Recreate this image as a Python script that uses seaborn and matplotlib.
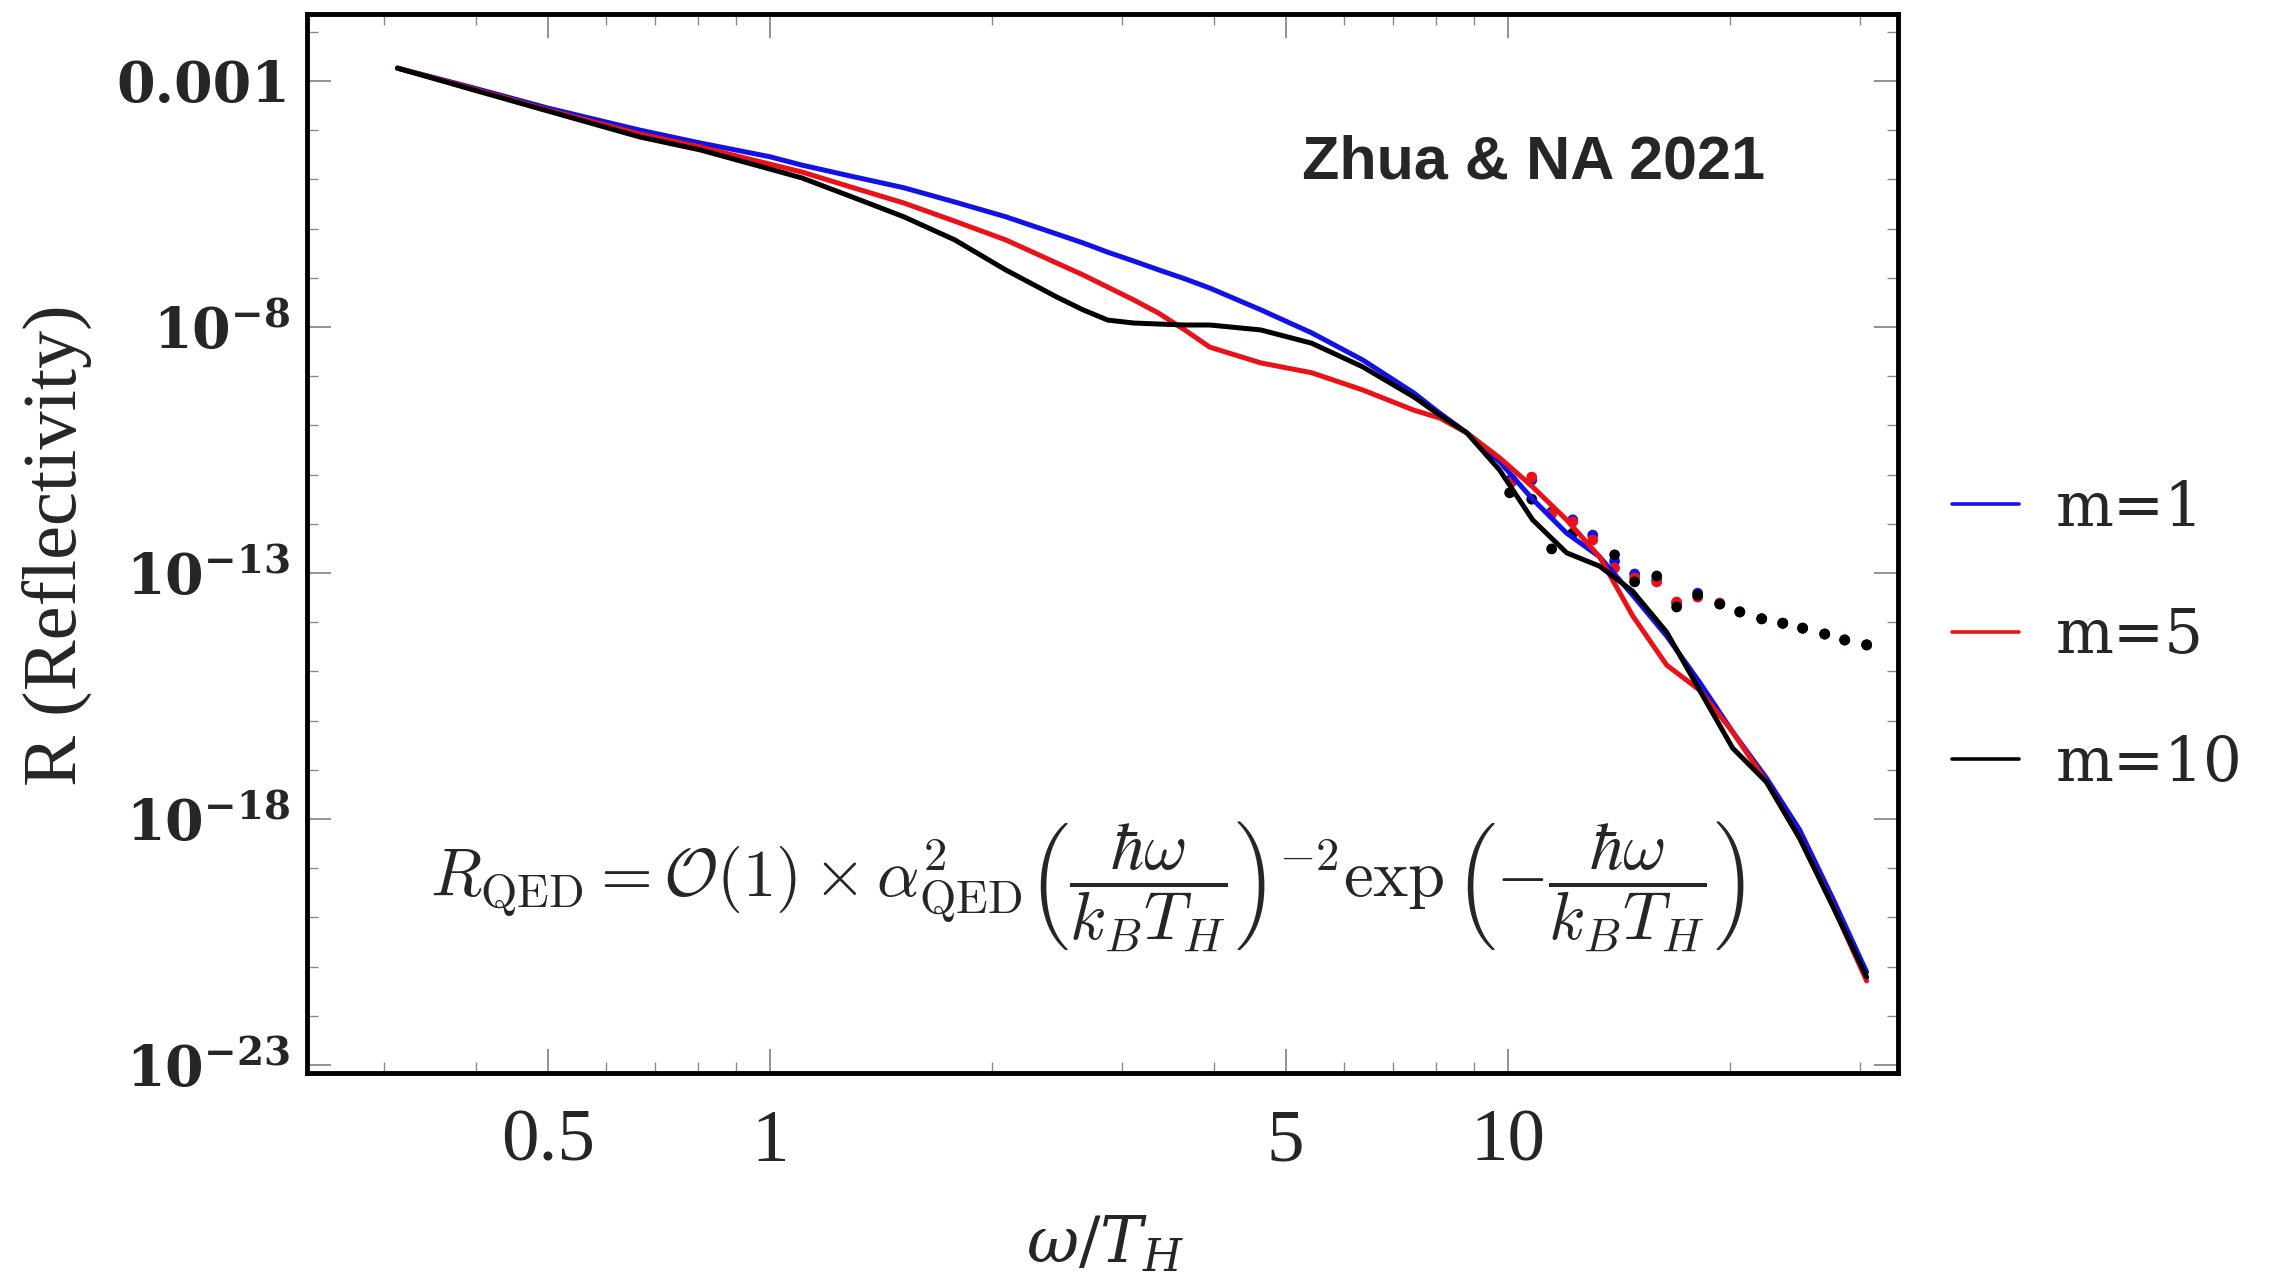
import numpy as np
import pandas as pd
import matplotlib
matplotlib.use('Agg')
import matplotlib.pyplot as plt
import seaborn as sns
from matplotlib.lines import Line2D
from matplotlib.ticker import FixedLocator, FixedFormatter, NullFormatter

# omega / T_H samples
omega = [0.313, 0.392, 0.500, 0.667, 0.804, 1.0, 1.105, 1.284, 1.519, 1.781,
         2.088, 2.448, 2.656, 2.871, 3.113, 3.366, 3.650, 3.948, 4.627, 5.425,
         6.361, 7.459, 8.088, 8.800, 9.754, 10.81, 12.02, 13.32, 14.77, 16.42,
         18.20, 20.18, 22.43, 24.87, 27.57, 30.65]

# log10 of the reflectivity for each curve
logr_m1 = [-2.74, -3.12, -3.55, -4.00, -4.26, -4.54, -4.71, -4.93, -5.17, -5.46,
           -5.76, -6.11, -6.29, -6.48, -6.66, -6.84, -7.02, -7.21, -7.65, -8.12,
           -8.67, -9.34, -9.75, -10.15, -10.74, -11.50, -12.19, -12.67, -13.45,
           -14.28, -15.22, -16.23, -17.17, -18.22, -19.61, -21.11]
logr_m5 = [-2.74, -3.14, -3.59, -4.08, -4.34, -4.69, -4.85, -5.15, -5.48, -5.85,
           -6.23, -6.70, -6.94, -7.19, -7.45, -7.72, -8.06, -8.41, -8.73, -8.93,
           -9.28, -9.69, -9.85, -10.15, -10.66, -11.25, -11.92, -12.67, -13.87,
           -14.87, -15.38, -16.23, -17.25, -18.39, -19.75, -21.29]
logr_m10 = [-2.74, -3.16, -3.61, -4.14, -4.40, -4.79, -4.97, -5.34, -5.76, -6.23,
            -6.84, -7.39, -7.65, -7.86, -7.92, -7.94, -7.96, -7.96, -8.06, -8.33,
            -8.81, -9.42, -9.79, -10.15, -10.91, -11.92, -12.59, -12.86, -13.37,
            -14.20, -15.38, -16.56, -17.25, -18.39, -19.77, -21.21]

# raw numerical points (dots) at high frequency
dot_omega = [10.12, 10.78, 11.47, 12.25, 13.04, 13.96, 14.86, 15.92, 16.94,
             18.09, 19.38, 20.63, 22.09, 23.59, 25.10, 26.89, 28.62, 30.65]
dot_logr_m1 = [-11.09, -11.11, -11.76, -11.92, -12.23, -12.76, -13.02, -13.14,
               -13.61, -13.41, -13.63, -13.79, -13.93, -14.02, -14.12, -14.24,
               -14.36, -14.46]
dot_logr_m5 = [-11.15, -11.05, -11.80, -11.96, -12.33, -12.90, -13.10, -13.18,
               -13.59, -13.49, -13.61, -13.79, -13.93, -14.02, -14.12, -14.24,
               -14.36, -14.46]
dot_omega_m10 = [10.06, 10.78, 11.47, 12.25, 13.96, 14.86, 15.92, 16.94, 18.09,
                 19.38, 20.63, 22.09, 23.59, 25.10, 26.89, 28.62, 30.65]
dot_logr_m10 = [-11.37, -11.50, -12.51, -12.19, -12.63, -13.18, -13.06, -13.69,
                -13.45, -13.63, -13.79, -13.93, -14.02, -14.12, -14.24, -14.36,
                -14.46]

labels = ['m=1', 'm=5', 'm=10']
colors = ['#1212e8', '#ea1218', '#000000']
palette = dict(zip(labels, colors))

x_major = [0.5, 1, 5, 10]
x_major_labels = ['0.5', '1', '5', '10']
x_minor = [0.3, 0.4, 0.6, 0.7, 0.8, 0.9, 2, 3, 4, 6, 7, 8, 9, 20, 30]
y_major = [1e-3, 1e-8, 1e-13, 1e-18, 1e-23]
y_major_labels = ['0.001', r'$\mathbf{10^{-8}}$', r'$\mathbf{10^{-13}}$',
                  r'$\mathbf{10^{-18}}$', r'$\mathbf{10^{-23}}$']

sns.set_style('ticks')
plt.rcParams['font.family'] = ['DejaVu Serif']
plt.rcParams['mathtext.fontset'] = 'dejavuserif'

curves = pd.concat([
    pd.DataFrame({'omega': omega, 'R': 10.0 ** np.array(v), 'm': lab})
    for v, lab in zip([logr_m1, logr_m5, logr_m10], labels)
])
dots = pd.concat([
    pd.DataFrame({'omega': o, 'R': 10.0 ** np.array(v), 'm': lab})
    for o, v, lab in zip([dot_omega, dot_omega, dot_omega_m10],
                         [dot_logr_m1, dot_logr_m5, dot_logr_m10], labels)
])

fig = plt.figure(figsize=(22.8, 12.76), dpi=100)
ax = fig.add_axes([307 / 2280, 1 - 1073 / 1276, (1898 - 307) / 2280, (1073 - 14) / 1276])

sns.scatterplot(data=dots, x='omega', y='R', hue='m', palette=palette, s=60,
                linewidth=0, legend=False, ax=ax, zorder=2)
sns.lineplot(data=curves, x='omega', y='R', hue='m', palette=palette,
             linewidth=3.6, estimator=None, sort=False, legend=False, ax=ax, zorder=3)

ax.set_xscale('log')
ax.set_yscale('log')
ax.set_xlim(0.236, 33.8)
ax.set_ylim(10 ** -23.16, 10 ** -1.64)

ax.xaxis.set_major_locator(FixedLocator(x_major))
ax.xaxis.set_major_formatter(FixedFormatter(x_major_labels))
ax.xaxis.set_minor_locator(FixedLocator(x_minor))
ax.xaxis.set_minor_formatter(NullFormatter())
ax.yaxis.set_major_locator(FixedLocator(y_major))
ax.yaxis.set_major_formatter(FixedFormatter(y_major_labels))
ax.yaxis.set_minor_locator(FixedLocator([10.0 ** -k for k in range(2, 24)]))
ax.yaxis.set_minor_formatter(NullFormatter())

ax.tick_params(which='both', direction='in', top=True, right=True, color='#8a8a8a')
ax.tick_params(which='major', length=17, width=1.3)
ax.tick_params(which='minor', length=8, width=1.0)
ax.tick_params(axis='y', labelsize=40, pad=12)
ax.tick_params(axis='x', labelsize=54, pad=26)
for lab in ax.get_yticklabels():
    lab.set_fontweight('bold')
for lab in ax.get_xticklabels():
    lab.set_family('Liberation Serif')
for sp in ax.spines.values():
    sp.set_linewidth(3.5)
    sp.set_color('black')

ax.set_xlabel('')
ax.set_ylabel('')
fig.text(58 / 2280, 1 - 545 / 1276, 'R (Reflectivity)', rotation=90, ha='center',
         va='center', fontsize=55, family='Liberation Serif')
fig.text(1105 / 2280, 1 - 1245 / 1276, r'$\omega/T_H$', ha='center', va='center',
         fontsize=46)

fig.text(1534 / 2280, 1 - 163 / 1276, 'Zhua & NA 2021', ha='center', va='center',
         fontsize=44, fontweight='bold', family='Liberation Sans')

formula = (r'$R_{\mathrm{QED}} = \mathcal{O}(1) \times \alpha^2_{\mathrm{QED}}'
           r'\left(\dfrac{\hbar\omega}{k_B T_H}\right)^{-2}'
           r'\exp\left(-\dfrac{\hbar\omega}{k_B T_H}\right)$')
fig.text(1087 / 2280, 1 - 887 / 1276, formula, ha='center', va='center',
         fontsize=48, math_fontfamily='cm')

handles = [Line2D([], [], color=c, lw=2.6) for c in colors]
fig.legend(handles, labels, loc='center left', bbox_to_anchor=(1897 / 2280, 1 - 636 / 1276),
           frameon=False, fontsize=44, handlelength=1.1, handletextpad=0.6,
           labelspacing=1.1)

fig.savefig('out.png', dpi=100)
